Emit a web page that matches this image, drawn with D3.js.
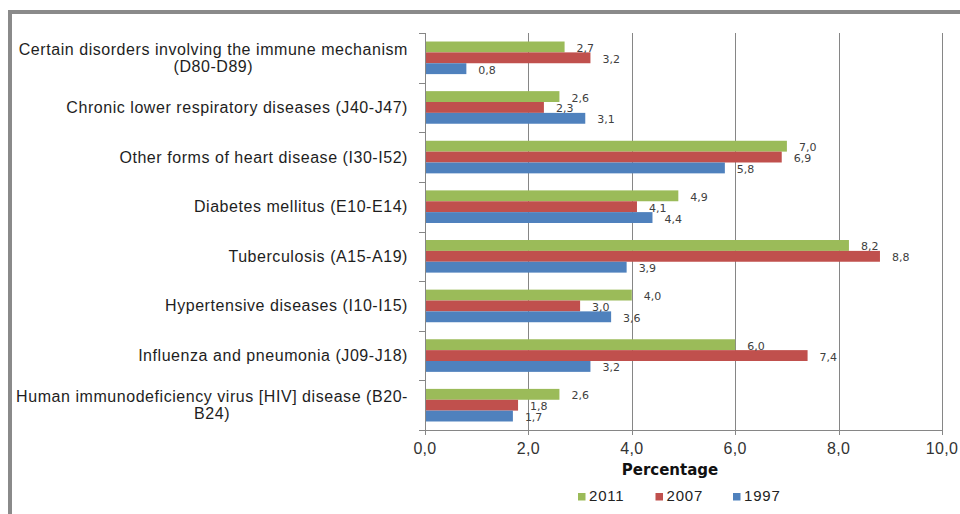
<!DOCTYPE html>
<html>
<head>
<meta charset="utf-8">
<script src="https://cdn.jsdelivr.net/npm/d3@7"></script>
<style>
    body { margin: 0; background: #fff; }
    svg { display: block; }
    .cat-label { font-family: "Liberation Sans", Arial, sans-serif; font-size: 16px; letter-spacing: 0.55px; fill: #1e1e1e; }
    .tick-label { font-family: "Liberation Sans", Arial, sans-serif; font-size: 16px; letter-spacing: 0.3px; fill: #333; }
    .value-label { font-family: "DejaVu Sans", Verdana, sans-serif; font-size: 11px; fill: #404040; }
    .axis-title { font-family: "DejaVu Sans", Verdana, sans-serif; font-size: 15px; font-weight: bold; fill: #111; }
    .legend-label { font-family: "Liberation Sans", Arial, sans-serif; font-size: 15px; letter-spacing: 0.8px; fill: #222; }
</style>
</head>
<body>
<svg id="chart" width="960" height="514"></svg>
<script>
// Categories, top to bottom
const categories = [
    "Certain disorders involving the immune mechanism\n(D80-D89)",
    "Chronic lower respiratory diseases (J40-J47)",
    "Other forms of heart disease (I30-I52)",
    "Diabetes mellitus (E10-E14)",
    "Tuberculosis (A15-A19)",
    "Hypertensive diseases (I10-I15)",
    "Influenza and pneumonia (J09-J18)",
    "Human immunodeficiency virus [HIV] disease (B20-\nB24)"
];

const seriesNames = ["2011", "2007", "1997"];
const seriesColors = ["#9bbb59", "#c0504d", "#4f81bd"];

const values2011 = [2.7, 2.6, 7.0, 4.9, 8.2, 4.0, 6.0, 2.6];
const values2007 = [3.2, 2.3, 6.9, 4.1, 8.8, 3.0, 7.4, 1.8];
const values1997 = [0.8, 3.1, 5.8, 4.4, 3.9, 3.6, 3.2, 1.7];

const xTicks = [0, 2, 4, 6, 8, 10];

class GroupedBarChart {
    constructor(selector = '#chart') {
        this.svg = d3.select(selector);
        this.margin = { left: 425, right: 942, top: 33, bottom: 430 };
        this.grid = "#868686";
        this.comma = v => d3.format(".1f")(v).replace(".", ",");

        this.x = d3.scaleLinear()
            .domain([0, 10])
            .range([this.margin.left, this.margin.right]);
        this.y = d3.scaleBand()
            .domain(categories)
            .range([this.margin.top, this.margin.bottom])
            .paddingInner(0.343)
            .paddingOuter(0.1715);
        this.ySub = d3.scaleBand()
            .domain(seriesNames)
            .range([0, this.y.bandwidth()]);
    }

    draw() {
        this.drawFrame();
        this.drawGrid();
        this.drawBars();
        this.drawAxes();
        this.drawCategoryLabels();
        this.drawLegend();
    }

    drawFrame() {
        this.svg.append("rect")
            .attr("x", 10).attr("y", 12)
            .attr("width", 1000).attr("height", 1000)
            .attr("fill", "none")
            .attr("stroke", "#8a8a8a")
            .attr("stroke-width", 4);
    }

    drawGrid() {
        this.svg.append("g")
            .selectAll("line")
            .data(xTicks.slice(1))
            .enter()
            .append("line")
            .attr("x1", d => Math.round(this.x(d)) + 0.5)
            .attr("x2", d => Math.round(this.x(d)) + 0.5)
            .attr("y1", this.margin.top)
            .attr("y2", this.margin.bottom)
            .attr("stroke", this.grid)
            .attr("stroke-width", 1);
    }

    drawBars() {
        const table = [values2011, values2007, values1997];
        const rows = categories.map((c, i) => ({
            cat: c,
            bars: seriesNames.map((s, j) => ({ s, color: seriesColors[j], v: table[j][i] }))
        }));

        const group = this.svg.append("g")
            .selectAll("g")
            .data(rows)
            .enter()
            .append("g")
            .attr("transform", d => `translate(0,${this.y(d.cat)})`);

        group.selectAll("rect")
            .data(d => d.bars)
            .enter()
            .append("rect")
            .attr("x", this.x(0))
            .attr("y", d => this.ySub(d.s))
            .attr("width", d => this.x(d.v) - this.x(0))
            .attr("height", this.ySub.bandwidth())
            .attr("fill", d => d.color);

        // Value labels, right of each bar end
        group.selectAll("text")
            .data(d => d.bars)
            .enter()
            .append("text")
            .attr("class", "value-label")
            .attr("x", d => this.x(d.v) + 12)
            .attr("y", d => this.ySub(d.s) + this.ySub.bandwidth() / 2 + 5)
            .text(d => this.comma(d.v));
    }

    drawAxes() {
        const top = this.margin.top, bottom = this.margin.bottom;
        const x0 = this.x(0);

        // Vertical axis with ticks between categories
        this.svg.append("line")
            .attr("x1", x0 + 0.5).attr("x2", x0 + 0.5)
            .attr("y1", top).attr("y2", bottom + 4)
            .attr("stroke", this.grid);

        const step = this.y.step();
        const bounds = d3.range(categories.length + 1).map(i => top + i * step);
        this.svg.append("g")
            .selectAll("line")
            .data(bounds)
            .enter()
            .append("line")
            .attr("x1", x0 - 6).attr("x2", x0)
            .attr("y1", d => Math.round(d) + 0.5)
            .attr("y2", d => Math.round(d) + 0.5)
            .attr("stroke", this.grid);

        // Horizontal axis
        this.svg.append("line")
            .attr("x1", x0 - 6).attr("x2", this.x(10) + 0.5)
            .attr("y1", bottom + 0.5).attr("y2", bottom + 0.5)
            .attr("stroke", this.grid);

        this.svg.append("g")
            .selectAll("line")
            .data(xTicks)
            .enter()
            .append("line")
            .attr("x1", d => Math.round(this.x(d)) + 0.5)
            .attr("x2", d => Math.round(this.x(d)) + 0.5)
            .attr("y1", bottom).attr("y2", bottom + 5)
            .attr("stroke", this.grid);

        this.svg.append("g")
            .selectAll("text")
            .data(xTicks)
            .enter()
            .append("text")
            .attr("class", "tick-label")
            .attr("x", d => this.x(d))
            .attr("y", 454)
            .attr("text-anchor", "middle")
            .text(d => this.comma(d));

        this.svg.append("text")
            .attr("class", "axis-title")
            .attr("x", 670)
            .attr("y", 475)
            .attr("text-anchor", "middle")
            .text("Percentage");
    }

    drawCategoryLabels() {
        const right = 408;
        const lineHeight = 17.5;

        categories.forEach(cat => {
            const lines = cat.split("\n");
            const label = this.svg.append("text")
                .attr("class", "cat-label")
                .attr("text-anchor", "middle");

            const cy = this.y(cat) + this.y.bandwidth() / 2;
            const firstBaseline = cy + 5.5 - (lines.length - 1) * lineHeight / 2;

            const spans = lines.map((t, i) => label.append("tspan")
                .attr("y", firstBaseline + i * lineHeight)
                .text(t));

            // Right-align the block, centre the lines inside it
            const widest = d3.max(spans, s => s.node().getComputedTextLength());
            spans.forEach(s => s.attr("x", right - widest / 2));
        });
    }

    drawLegend() {
        const legend = this.svg.append("g")
            .attr("transform", "translate(578,493)");

        const item = legend.selectAll("g")
            .data(seriesNames)
            .enter()
            .append("g")
            .attr("transform", (d, i) => `translate(${i * 77.5},0)`);

        item.append("rect")
            .attr("width", 7.5)
            .attr("height", 7.5)
            .attr("fill", (d, i) => seriesColors[i]);

        item.append("text")
            .attr("class", "legend-label")
            .attr("x", 11)
            .attr("y", 8)
            .text(d => d);
    }
}

const chart = new GroupedBarChart();
chart.draw();
</script>
</body>
</html>
